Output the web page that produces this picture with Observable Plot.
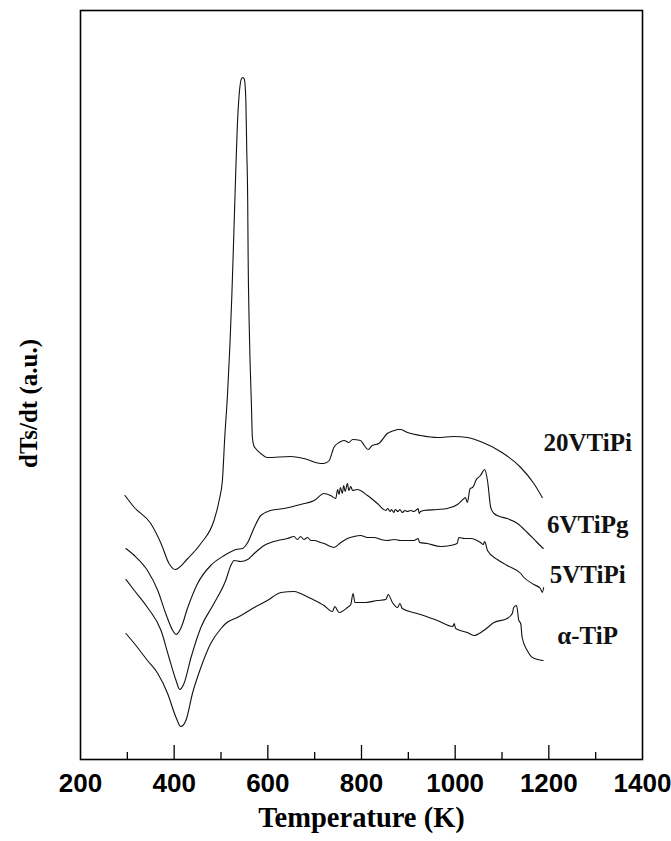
<!DOCTYPE html>
<html><head><meta charset="utf-8">
<script src="https://cdn.jsdelivr.net/npm/d3@7"></script>
<script src="https://cdn.jsdelivr.net/npm/@observablehq/plot@0.6"></script>
<style>body{margin:0;background:#fff}</style>
</head><body><div id="chart"></div>
<script>
// Tick values (K)
const xTickLabels = [200, 400, 600, 800, 1000, 1200, 1400];
const majorTicks = [400, 600, 800, 1000, 1200];
const minorTicks = [300, 500, 700, 900, 1100, 1300];

// Series names
const seriesNames = ["20VTiPi", "6VTiPg", "5VTiPi", "α-TiP"];

// [Temperature (K), dTs/dt (a.u.)]
const s20VTiPi = [[295,264],[315,252],[350,236],[372,216],[389,196],[402,190],[429,201],[457,216],[485,239],[496,259],[503,279],[508,322],[514,366],[519,414],[523,462],[526,505],[529,550],[532,595],[535,635],[538,660],[541,675],[544,681],[547,682],[550,680],[553,660],[555,609],[557,559],[558,499],[560,439],[562,399],[565,354],[567,322],[570,314],[574,311],[585,306],[599,302],[649,303],[677,301],[713,296],[720,296],[731,299],[741,312],[752,317],[763,319],[773,317],[781,320],[798,319],[806,314],[814,310],[823,314],[837,316],[855,326],[870,329],[877,330],[884,330],[898,327],[926,324],[962,322],[997,323],[1026,322],[1054,318],[1100,307],[1140,292],[1168,276],[1186,262]];

const s6VTiPg = [[297,211],[315,204],[343,189],[365,169],[382,146],[397,129],[404,125],[414,131],[429,152],[450,176],[478,194],[507,204],[532,210],[546,211],[557,217],[571,232],[585,244],[606,249],[635,251],[670,255],[699,259],[720,266],[734,264],[745,261],[749,270],[752,265],[755,272],[759,266],[762,274],[765,268],[770,276],[773,269],[777,273],[781,269],[791,270],[813,264],[834,256],[852,249],[856,251],[861,248],[864,250],[869,247],[872,250],[878,248],[882,250],[887,247],[893,249],[898,248],[905,249],[912,248],[918,250],[921,251],[923,246],[926,248],[933,249],[962,250],[983,251],[1005,255],[1019,261],[1022,262],[1026,257],[1032,271],[1037,272],[1040,274],[1044,279],[1054,284],[1063,290],[1069,279],[1076,252],[1083,246],[1095,243],[1111,241],[1133,236],[1154,227],[1175,217],[1188,211]];

const s5VTiPi = [[297,180],[315,169],[343,152],[372,129],[389,102],[404,79],[412,70],[421,76],[436,102],[457,132],[485,156],[510,179],[521,194],[528,199],[542,198],[557,200],[571,206],[592,214],[621,219],[642,221],[656,223],[663,220],[670,223],[677,220],[685,222],[692,219],[699,219],[713,217],[720,216],[734,213],[741,212],[756,217],[770,221],[784,223],[798,224],[813,222],[827,222],[841,220],[855,219],[870,220],[884,219],[898,219],[912,219],[921,221],[924,217],[940,216],[969,213],[990,214],[1004,216],[1008,222],[1020,221],[1033,221],[1054,217],[1060,215],[1063,218],[1069,209],[1090,200],[1104,196],[1111,194],[1140,186],[1147,182],[1168,175],[1182,171],[1186,167],[1189,172]];

const sAlphaTiP = [[297,126],[315,116],[343,99],[365,86],[386,66],[404,42],[414,33],[425,39],[439,66],[457,92],[478,116],[500,131],[510,136],[535,142],[571,152],[599,159],[628,167],[656,168],[670,166],[692,161],[720,154],[738,148],[743,153],[752,147],[770,152],[777,155],[782,166],[786,157],[809,157],[834,159],[852,160],[857,165],[866,157],[877,152],[882,156],[887,151],[919,146],[962,139],[995,133],[998,136],[1001,131],[1026,127],[1040,124],[1061,129],[1083,137],[1111,141],[1122,146],[1125,152],[1131,154],[1136,139],[1140,136],[1143,122],[1154,109],[1165,102],[1188,99]];

// label anchor (annotation placement)
const labelT = 1283;
const labelV = [317, 235, 185, 124];

const allSeries = [s20VTiPi, s6VTiPg, s5VTiPi, sAlphaTiP];
const rows = seriesNames.flatMap((name, i) => allSeries[i].map(([T, v]) => ({name, T, v})));

const serif = "'Liberation Serif', 'Times New Roman', serif";

const chart = Plot.plot({
  width: 671,
  height: 841,
  marginLeft: 80,
  marginRight: 29,
  marginTop: 10,
  marginBottom: 82,
  x: {domain: [200, 1400]},
  y: {domain: [0, 749], axis: null},
  style: {background: "white", color: "black", fontFamily: "'Liberation Sans', Arial, sans-serif"},
  marks: [
    Plot.ruleX(majorTicks, {x: d => d, insetTop: 735, stroke: "black", strokeWidth: 1.3}),
    Plot.ruleX(minorTicks, {x: d => d, insetTop: 742, stroke: "black", strokeWidth: 1.3}),
    Plot.axisX(xTickLabels, {tickSize: 0, tickPadding: 14, fontSize: 26, fontWeight: "bold", label: null, tickFormat: d => String(d)}),
    Plot.line(rows, {x: "T", y: "v", z: "name", stroke: "#111", strokeWidth: 1.1, curve: "monotone-x"}),
    Plot.text(seriesNames, {x: () => labelT, y: (d, i) => labelV[i], text: d => d, fontSize: 25, fontWeight: "bold", fontFamily: serif, fill: "#111"}),
    Plot.text(["Temperature (K)"], {frameAnchor: "bottom", dy: 67, text: d => d, fontSize: 28.5, fontWeight: "bold", fontFamily: serif, textAnchor: "middle"}),
    Plot.text(["dTs/dt (a.u.)"], {frameAnchor: "left", dx: -52, dy: 18.5, rotate: -90, textAnchor: "middle", text: d => d, fontSize: 25, fontWeight: "bold", fontFamily: serif}),
    Plot.frame({stroke: "black", strokeWidth: 1.6})
  ]
});
document.getElementById("chart").appendChild(chart);
</script>
</body></html>
